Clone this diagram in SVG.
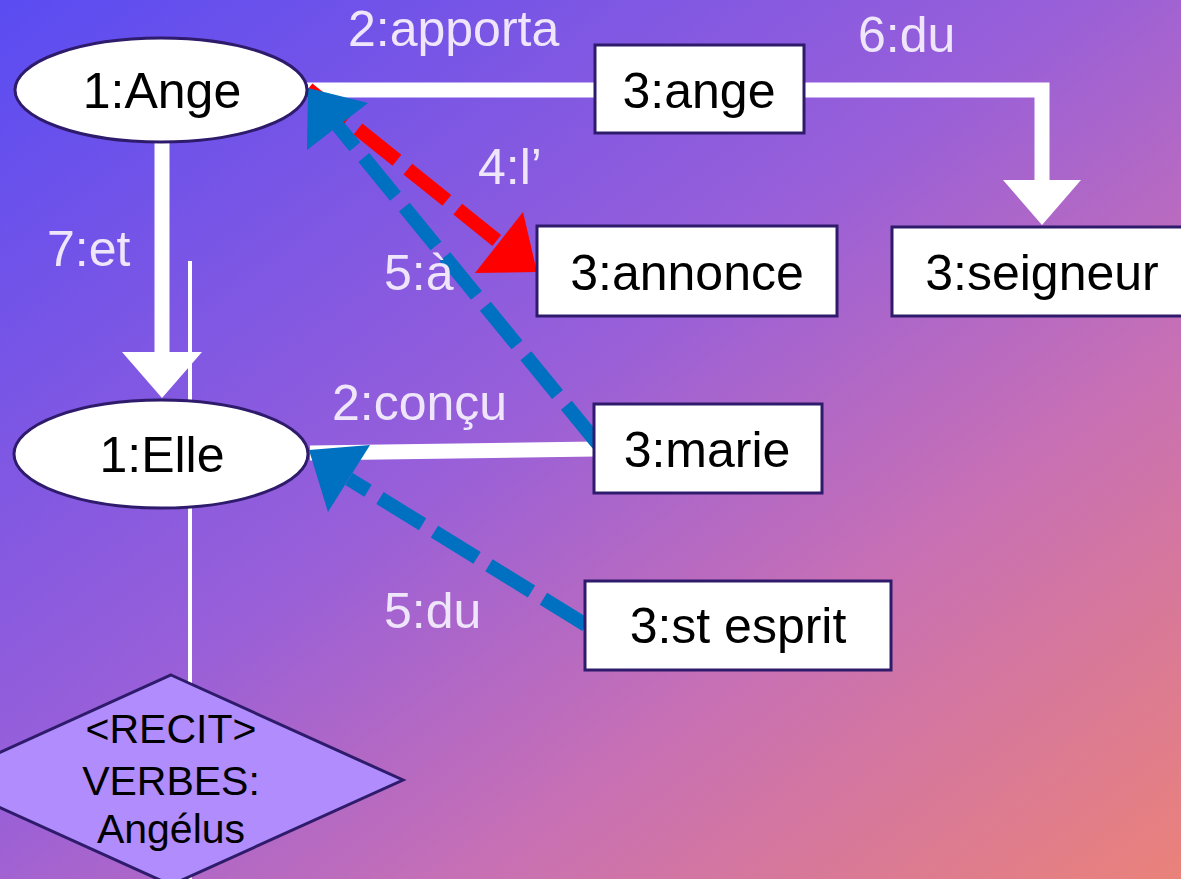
<svg xmlns="http://www.w3.org/2000/svg" width="1181" height="879" viewBox="0 0 1181 879">
<defs>
<linearGradient id="bg" x1="0" y1="0" x2="1" y2="1">
<stop offset="0" stop-color="#5a4cf2"/>
<stop offset="0.45" stop-color="#985fd9"/>
<stop offset="0.7" stop-color="#c870b4"/>
<stop offset="1" stop-color="#ea827a"/>
</linearGradient>
<style>
.node{fill:#ffffff;stroke:#2e1b6b;stroke-width:3}
.diam{fill:#b08cfc;stroke:#2e1b6b;stroke-width:3}
.nt{font-family:"Liberation Sans",Arial,sans-serif;font-size:50px;fill:#000;text-anchor:middle}
.dt{font-family:"Liberation Sans",Arial,sans-serif;font-size:41px;fill:#000;text-anchor:middle}
.lbl{font-family:"Liberation Sans",Arial,sans-serif;font-size:50px;fill:#efe6fb}
.wl{stroke:#fff;stroke-width:15;fill:none}
.red{stroke:#ff0000;stroke-width:14;fill:none;stroke-dasharray:50 14}
.blue{stroke:#0070c0;stroke-width:14;fill:none;stroke-dasharray:50 14}
</style>
</defs>
<rect x="0" y="0" width="1181" height="879" fill="url(#bg)"/>
<line x1="190" y1="261" x2="190" y2="879" stroke="#fff" stroke-width="4"/>
<g id="connectors">
<line class="wl" x1="300" y1="90" x2="597" y2="90"/>
<polyline class="wl" points="803,90 1042,90 1042,182"/>
<polygon points="1003,180 1081,180 1042,225" fill="#fff"/>
<line class="wl" x1="162" y1="140" x2="162" y2="354"/>
<polygon points="122,352 202,352 162,398" fill="#fff"/>
<line class="wl" x1="596" y1="449" x2="310" y2="453"/>
<line class="red" x1="308" y1="89" x2="500" y2="243"/>
<polygon points="523,212 537,272 475,273" fill="#ff0000"/>
<line class="blue" x1="598" y1="444" x2="338" y2="126"/>
<polygon points="308,88 368,103 307,150" fill="#0070c0"/>
<line class="blue" x1="586" y1="625" x2="349" y2="479"/>
<polygon points="309,450 370,445 328,512" fill="#0070c0"/>
<text class="lbl" x="348" y="46">2:apporta</text>
<text class="lbl" x="858" y="52">6:du</text>
<text class="lbl" x="478" y="184">4:l’</text>
<text class="lbl" x="384" y="290">5:à</text>
<text class="lbl" x="47" y="266">7:et</text>
<text class="lbl" x="332" y="420">2:conçu</text>
<text class="lbl" x="384" y="628">5:du</text>
</g>
<g id="ange1"><ellipse class="node" cx="161" cy="90" rx="146" ry="52"/><text class="nt" x="162" y="108">1:Ange</text></g>
<g id="ange3"><rect class="node" x="595" y="45" width="209" height="88"/><text class="nt" x="699" y="108">3:ange</text></g>
<g id="annonce"><rect class="node" x="537" y="226" width="300" height="90"/><text class="nt" x="687" y="290">3:annonce</text></g>
<g id="seigneur"><rect class="node" x="892" y="227" width="300" height="89"/><text class="nt" x="1042" y="290">3:seigneur</text></g>
<g id="elle"><ellipse class="node" cx="161" cy="454" rx="147" ry="54"/><text class="nt" x="162" y="472">1:Elle</text></g>
<g id="marie"><rect class="node" x="594" y="404" width="228" height="89"/><text class="nt" x="707" y="467">3:marie</text></g>
<g id="esprit"><rect class="node" x="585" y="581" width="306" height="89"/><text class="nt" x="738" y="643">3:st esprit</text></g>
<g id="recit"><polygon class="diam" points="171,675 403,780 171,885 -61,780"/>
<text class="dt" x="171" y="743">&lt;RECIT&gt;</text>
<text class="dt" x="171" y="795">VERBES:</text>
<text class="dt" x="171" y="843">Angélus</text></g>
</svg>
